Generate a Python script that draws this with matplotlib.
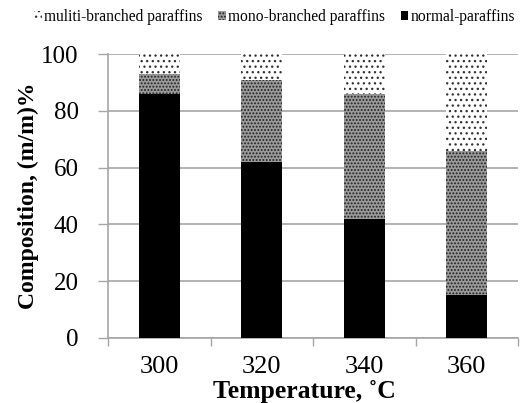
import matplotlib
matplotlib.use('Agg')
import matplotlib.pyplot as plt
import numpy as np

temps = ['300', '320', '340', '360']
normal = [86, 62, 42, 15]
mono = [7, 29, 44, 51]
multi = [7, 9, 14, 34]

plt.rcParams['font.family'] = ['Liberation Serif', 'DejaVu Serif']
plt.rcParams['hatch.linewidth'] = 0.9

fig = plt.figure(figsize=(5.23, 4.03), dpi=100)
ax = fig.add_axes([0.2065, 0.1613, 0.784, 0.7047])

x = np.arange(len(temps))
w = 0.4
grey = '#a6a6a6'

b1 = ax.bar(x, normal, w, color='black', lw=0, zorder=3, label='normal-paraffins')
b2 = ax.bar(x, mono, w, bottom=normal, color='#9a9a9a', edgecolor='#202020',
            hatch='.....', lw=0, zorder=3, label='mono-branched paraffins')
bot2 = np.array(normal) + np.array(mono)
b3 = ax.bar(x, multi, w, bottom=bot2, color='white', edgecolor='#303030',
            hatch='...', lw=0, zorder=3, label='muliti-branched paraffins')

ax.set_xlim(-0.5, 3.5)
ax.set_ylim(0, 100)
ax.set_yticks(range(0, 101, 20))
ax.yaxis.grid(True, color=grey, lw=1.2, zorder=0)
ax.set_xticks(x)
ax.set_xticklabels(temps)
ax.set_xticks(np.arange(-0.5, 4, 1), minor=True)
ax.tick_params(axis='x', which='major', length=0, pad=13, labelsize=19)
ax.tick_params(axis='x', which='minor', length=6, color=grey, width=1)
ax.tick_params(axis='y', length=7, color=grey, width=1, labelsize=18, pad=14)

for s in ['top', 'right']:
    ax.spines[s].set_visible(False)
for s in ['left', 'bottom']:
    ax.spines[s].set_color(grey)
    ax.spines[s].set_linewidth(1.2)

ax.set_ylabel('Composition, (m/m)%', fontsize=17, fontweight='bold', labelpad=2)
# x label sits just under the tick labels, as in the original
fig.text(0.582, 0.012, 'Temperature, ˚C', fontsize=18.5, fontweight='bold',
         ha='center', va='baseline')

fig.legend(handles=[b3, b2, b1], loc='center', bbox_to_anchor=(0.525, 0.957),
           ncol=3, frameon=False, fontsize=11.2, handlelength=0.5, handleheight=0.5,
           handletextpad=0.15, columnspacing=1.0, borderpad=0.1)

fig.savefig('out.png', dpi=100)
